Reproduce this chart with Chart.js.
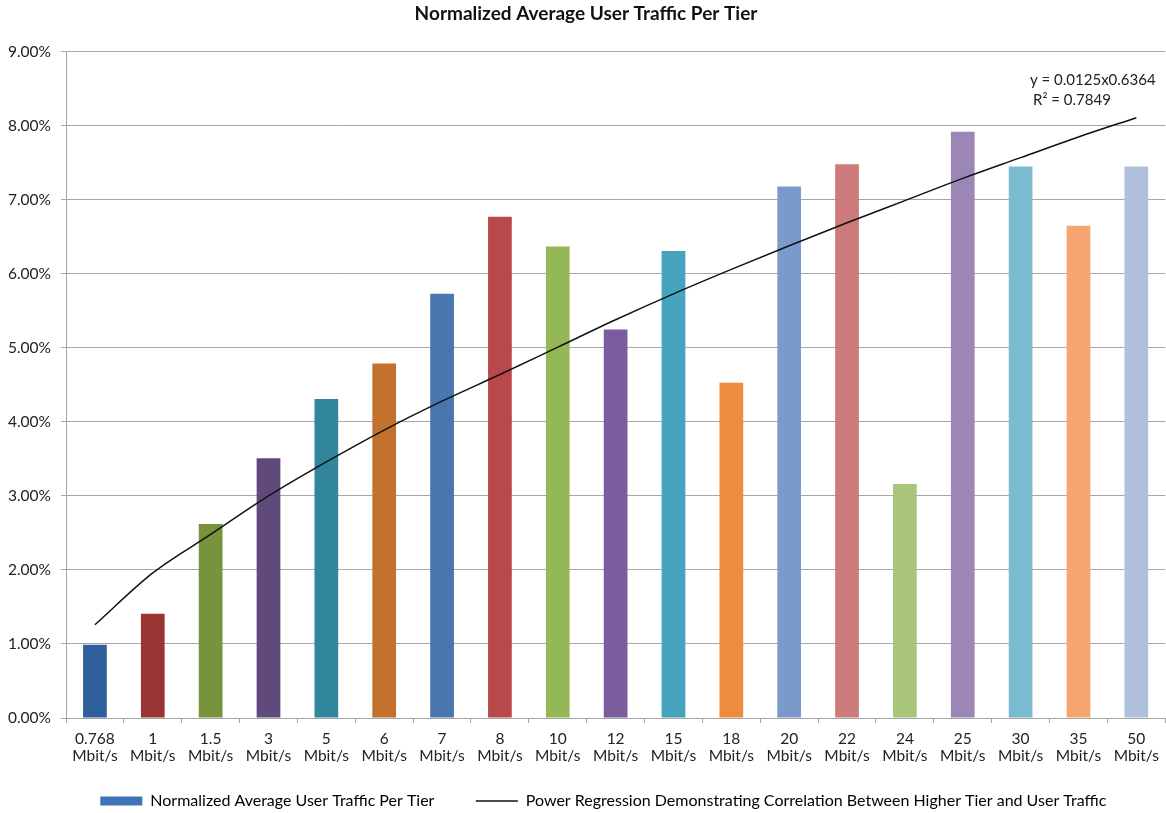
<!DOCTYPE html>
<html>
<head>
<meta charset="utf-8">
<title>Normalized Average User Traffic Per Tier</title>
<script src="https://cdn.jsdelivr.net/npm/chart.js@4/dist/chart.umd.min.js"></script>
<style>
  html, body { margin: 0; padding: 0; background: #fff; }
  #chart { display: block; }
</style>
</head>
<body>
<canvas id="chart" width="1166" height="813"></canvas>
<script>
const tiers = ['0.768', '1', '1.5', '3', '5', '6', '7', '8', '10', '12', '15', '18', '20', '22', '24', '25', '30', '35', '50'];
const traffic = [0.99, 1.41, 2.62, 3.51, 4.31, 4.79, 5.73, 6.77, 6.37, 5.25, 6.31, 4.53, 7.18, 7.48, 3.16, 7.92, 7.45, 6.65, 7.45];
// trend line (power fit drawn by the source)
const regression = [1.26, 1.96, 2.48, 3.00, 3.46, 3.89, 4.28, 4.64, 5.01, 5.38, 5.73, 6.06, 6.38, 6.69, 6.99, 7.29, 7.57, 7.85, 8.11];
const yTicks = [0, 1, 2, 3, 4, 5, 6, 7, 8, 9];

const barColors = [
  '#30609c', '#9b3533', '#77933c', '#604a7b', '#31859c', '#c2712e', '#4a76b0',
  '#b8484a', '#94b758', '#7b5c9e', '#46a3be', '#ee8c3e', '#7b9acb', '#cc7b7a',
  '#a9c47b', '#9b86b5', '#7bbbd0', '#f5a670', '#afc0dd'
];

const FONT = 'Lato, "Open Sans", sans-serif';
const gridGray = '#a6a6a6';

const fitLabel = {
  id: 'fitLabel',
  afterDraw(chart) {
    const ctx = chart.ctx;
    ctx.save();
    ctx.fillStyle = '#222';
    ctx.font = '15px ' + FONT;
    ctx.textBaseline = 'middle';
    ctx.fillText('y = 0.0125x0.6364', 1030, 80);
    ctx.fillText('R\u00b2 = 0.7849', 1033, 100);
    ctx.restore();
  }
};

const ctx = document.getElementById('chart').getContext('2d');
new Chart(ctx, {
  type: 'bar',
  data: {
    labels: tiers.map(t => [t, 'Mbit/s']),
    datasets: [
      {
        type: 'line',
        label: 'Power Regression Demonstrating Correlation Between Higher Tier and User Traffic',
        data: regression,
        borderColor: '#111',
        borderWidth: 1.5,
        pointRadius: 0,
        cubicInterpolationMode: 'monotone',
        fill: false,
        order: 0
      },
      {
        label: 'Normalized Average User Traffic Per Tier',
        data: traffic,
        backgroundColor: barColors,
        borderWidth: 0,
        barPercentage: 0.41,
        categoryPercentage: 1,
        order: 1
      }
    ]
  },
  options: {
    responsive: false,
    animation: false,
    layout: { padding: { left: 6, right: 0, top: 0, bottom: -6 } },
    plugins: {
      title: {
        display: true,
        text: 'Normalized Average User Traffic Per Tier',
        color: '#111',
        font: { family: FONT, size: 19, weight: 'bold' },
        padding: { top: 2, bottom: 27 }
      },
      legend: {
        position: 'bottom',
        fullSize: false,
        labels: {
          color: '#333',
          font: { family: FONT, size: 16 },
          usePointStyle: true,
          pointStyleWidth: 42,
          boxHeight: 9,
          padding: 25,
          generateLabels() {
            return [
              {
                text: 'Normalized Average User Traffic Per Tier    ',
                fillStyle: '#3f75b8', strokeStyle: '#3f75b8', lineWidth: 0,
                pointStyle: 'rect', datasetIndex: 1
              },
              {
                text: 'Power Regression Demonstrating Correlation Between Higher Tier and User Traffic      ',
                fillStyle: '#111', strokeStyle: '#111', lineWidth: 1.5,
                pointStyle: 'line', datasetIndex: 0
              }
            ];
          }
        }
      },
      tooltip: { enabled: false }
    },
    scales: {
      x: {
        offset: true,
        grid: { offset: true, drawOnChartArea: false, drawTicks: true, tickLength: 5, color: gridGray },
        border: { color: gridGray },
        ticks: { color: '#222', font: { family: FONT, size: 15.5, lineHeight: 1.1 }, padding: 7, maxRotation: 0, autoSkip: false },
        afterFit(s) { s.height = 50; }
      },
      y: {
        min: 0,
        max: 9,
        afterBuildTicks(s) { s.ticks = yTicks.map(v => ({ value: v })); },
        grid: { color: gridGray, tickLength: 5 },
        border: { color: gridGray },
        ticks: {
          color: '#222',
          font: { family: FONT, size: 15.5 },
          padding: 10,
          callback: v => v.toFixed(2) + '%'
        },
        afterFit(s) { s.width = 60; }
      }
    }
  },
  plugins: [fitLabel]
});
</script>
</body>
</html>
